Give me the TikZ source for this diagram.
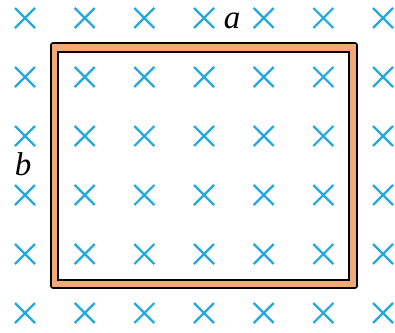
\documentclass[tikz,border=0pt]{standalone}
\usepackage{fontspec}
\setmainfont{Liberation Serif}
\usetikzlibrary{positioning}
\definecolor{fieldblue}{RGB}{35,168,224}
\definecolor{loopfill}{RGB}{240,170,120}
\tikzset{
  crossmark/.style={draw=fieldblue, line width=2.2pt},
  loopouter/.style={draw=black, line width=1.6pt, fill=loopfill, rounded corners=2pt},
  loopinner/.style={draw=black, line width=1.8pt, fill=white},
  lbl/.style={font=\fontsize{33}{35}\selectfont\itshape, inner sep=0pt}
}
\begin{document}
\begin{tikzpicture}[x=1pt,y=-1pt]
\useasboundingbox (0,0) rectangle (395,332);
% loop frame
\path[loopouter] (51,43) rectangle (357,288);
\path[loopinner] (58,52) rectangle (349,280);
% crosses
\foreach \cx in {25,84.7,144.3,204,263.7,323.3,383}{
  \foreach \cy in {18,77,136,195,254,313}{
    \draw[crossmark] (\cx-10,\cy-10) -- (\cx+10,\cy+10)
                     (\cx-10,\cy+10) -- (\cx+10,\cy-10);
  }
}
\node[lbl] (a) at (232,21) {a};
\node[lbl] (b) at (23,164) {b};
\end{tikzpicture}
\end{document}
